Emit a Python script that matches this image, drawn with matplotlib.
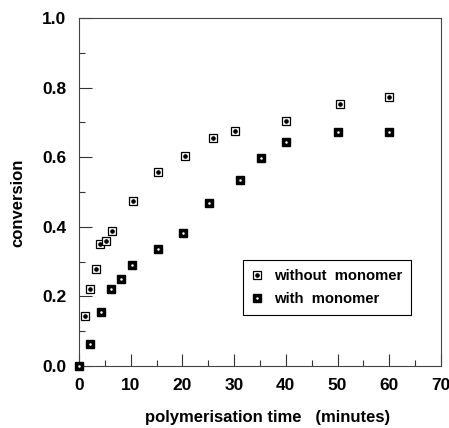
import numpy as np
import matplotlib
matplotlib.use("Agg")
import matplotlib.pyplot as plt
from matplotlib.legend_handler import HandlerTuple

# without monomer (open square with dot)
t_without = [1.2, 2.1, 3.2, 4.0, 5.2, 6.3, 10.4, 15.3, 20.5, 26.0, 30.2, 40.1, 50.4, 60.0]
c_without = [0.144, 0.221, 0.280, 0.351, 0.358, 0.387, 0.473, 0.557, 0.604, 0.655, 0.675, 0.705, 0.752, 0.774]

# with monomer (filled square)
t_with = [0.0, 2.1, 4.2, 6.2, 8.2, 10.2, 15.2, 20.1, 25.1, 31.1, 35.2, 40.1, 50.0, 60.0]
c_with = [0.0, 0.062, 0.154, 0.221, 0.250, 0.289, 0.335, 0.383, 0.469, 0.533, 0.598, 0.644, 0.672, 0.672]

plt.rcParams['font.family'] = ['Liberation Sans', 'DejaVu Sans']

fig = plt.figure(figsize=(4.49, 4.28), dpi=100)
ax = fig.add_axes([0.176, 0.145, 0.806, 0.813])

sq1, = ax.plot(t_without, c_without, 's', ms=5.3, mfc='white', mec='black', mew=0.9,
               linestyle='none', zorder=3)
dot1, = ax.plot(t_without, c_without, 'o', ms=2.3, color='black', linestyle='none', zorder=4)
sq2, = ax.plot(t_with, c_with, 's', ms=6.0, color='black', linestyle='none', zorder=3, clip_on=False)
dot2, = ax.plot(t_with, c_with, 'o', ms=0.8, color='white', linestyle='none', zorder=4, clip_on=False)

ax.set_xlim(0, 70)
ax.set_ylim(0, 1.0)
ax.set_xticks(np.arange(0, 71, 10))
ax.set_xticks(np.arange(0, 71, 5), minor=True)
ax.set_yticks(np.arange(0, 1.01, 0.2))
ax.set_yticks(np.arange(0, 1.01, 0.1), minor=True)
ax.yaxis.set_major_formatter(matplotlib.ticker.FormatStrFormatter('%.1f'))

ax.tick_params(which='both', direction='in', top=False, right=False, width=0.8, color='#333333')
ax.tick_params(which='major', length=9, pad=9, labelsize=12.5)
ax.tick_params(which='minor', length=4.5)
for lab in ax.get_xticklabels() + ax.get_yticklabels():
    lab.set_fontweight('bold')

for s in ax.spines.values():
    s.set_linewidth(0.8)
    s.set_color('#444444')

ax.set_xlabel('polymerisation time   (minutes)', fontsize=12, fontweight='bold')
ax.xaxis.set_label_coords(0.52, -0.127)
ax.set_ylabel('conversion', fontsize=12, fontweight='bold')
ax.yaxis.set_label_coords(-0.147, 0.468)

leg = ax.legend([(sq1, dot1), (sq2, dot2)], ['without  monomer', 'with  monomer'],
                handler_map={tuple: HandlerTuple(ndivide=1)},
                loc='upper left', bbox_to_anchor=(0.452, 0.305), borderaxespad=0,
                fancybox=False, edgecolor='black', framealpha=1,
                prop={'size': 10.7, 'weight': 'bold'},
                handlelength=0.8, handletextpad=0.7, borderpad=0.6, labelspacing=0.65)
leg.get_frame().set_linewidth(0.8)

fig.savefig('out.png', dpi=100)
